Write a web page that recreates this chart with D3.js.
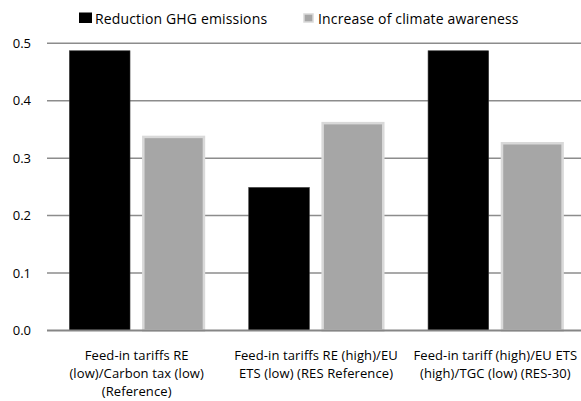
<!DOCTYPE html>
<html>
<head>
<meta charset="utf-8">
<script src="https://cdn.jsdelivr.net/npm/d3@7"></script>
<style>
  html, body { margin: 0; padding: 0; background: #fff; }
  svg { display: block; font-family: "Open Sans", "Liberation Sans", sans-serif; }
</style>
</head>
<body>
<svg id="chart" width="581" height="401"></svg>
<script>
// Scenario categories (each label split into its display lines)
const categories = [
  ["Feed-in tariffs RE", "(low)/Carbon tax (low)", "(Reference)"],
  ["Feed-in tariffs RE (high)/EU", "ETS (low) (RES Reference)"],
  ["Feed-in tariff (high)/EU ETS", "(high)/TGC (low) (RES-30)"]
];
const seriesNames = ["Reduction GHG emissions", "Increase of climate awareness"];
const reductionGHG = [0.487, 0.249, 0.487];
const climateAwareness = [0.337, 0.361, 0.326];
const yTicks = [0, 0.1, 0.2, 0.3, 0.4, 0.5];

const seriesValues = [reductionGHG, climateAwareness];
const seriesFill = ["#000000", "#a6a6a6"];
const seriesStroke = ["#3a3a3a", "#d9d9d9"];

const svg = d3.select("#chart");
const plot = { left: 47, right: 585, top: 43.3, bottom: 330.5 };

const x0 = d3.scaleBand()
  .domain(d3.range(categories.length))
  .range([plot.left, plot.right])
  .padding(0);

const x1 = d3.scaleBand()
  .domain(d3.range(seriesNames.length))
  .range([0, x0.bandwidth()])
  .paddingInner(0.18)
  .paddingOuter(0.303);

const y = d3.scaleLinear()
  .domain([0, 0.5])
  .range([plot.bottom, plot.top]);

// Horizontal gridlines
svg.append("g")
  .selectAll("line")
  .data(yTicks.filter(d => d > 0))
  .join("line")
  .attr("x1", plot.left)
  .attr("x2", plot.right)
  .attr("y1", d => y(d))
  .attr("y2", d => y(d))
  .attr("stroke", "#8c8c8c")
  .attr("stroke-width", 1.5);

// Y axis labels
const yAxis = d3.axisLeft(y)
  .tickValues(yTicks)
  .tickFormat(d3.format(".1f"))
  .tickSize(0)
  .tickPadding(0);

svg.append("g")
  .attr("transform", `translate(${plot.left - 16},0)`)
  .call(yAxis)
  .call(g => g.select(".domain").remove())
  .call(g => g.selectAll("text")
    .attr("font-size", 13)
    .attr("fill", "#000")
    .attr("font-family", "'Open Sans', sans-serif"));

// Bars
const groups = svg.append("g")
  .selectAll("g")
  .data(categories.map((c, i) => i))
  .join("g")
  .attr("transform", i => `translate(${x0(i)},0)`);

groups.selectAll("rect")
  .data(i => seriesValues.map((vals, s) => ({ s, v: vals[i] })))
  .join("rect")
  .attr("x", d => x1(d.s))
  .attr("width", x1.bandwidth())
  .attr("y", d => y(d.v))
  .attr("height", d => y(0) - y(d.v))
  .attr("fill", d => seriesFill[d.s])
  .attr("stroke", d => seriesStroke[d.s])
  .attr("stroke-width", d => d.s === 0 ? 0.6 : 2.5);

// Baseline
svg.append("line")
  .attr("x1", plot.left)
  .attr("x2", plot.right)
  .attr("y1", y(0))
  .attr("y2", y(0))
  .attr("stroke", "#868686")
  .attr("stroke-width", 2);

// Category labels
const catLabels = svg.append("g")
  .selectAll("text")
  .data(categories)
  .join("text")
  .attr("text-anchor", "middle")
  .attr("font-size", 13)
  .attr("letter-spacing", 0.1)
  .attr("fill", "#000")
  .attr("transform", (d, i) => `translate(${x0(i) + x0.bandwidth() / 2},0)`);

catLabels.selectAll("tspan")
  .data(d => d)
  .join("tspan")
  .attr("x", 0)
  .attr("y", (d, k) => 359.5 + k * 18.3)
  .text(d => d);

// Legend
const legendX = [79, 303];
const legend = svg.append("g")
  .selectAll("g")
  .data(seriesNames)
  .join("g")
  .attr("transform", (d, i) => `translate(${legendX[i]},0)`);

legend.append("rect")
  .attr("x", (d, i) => i === 0 ? 0 : 1)
  .attr("y", (d, i) => i === 0 ? 12.5 : 14)
  .attr("width", (d, i) => i === 0 ? 13 : 9)
  .attr("height", (d, i) => i === 0 ? 10.5 : 8)
  .attr("fill", (d, i) => seriesFill[i])
  .attr("stroke", (d, i) => i === 0 ? "none" : seriesStroke[i])
  .attr("stroke-width", 1.5);

legend.append("text")
  .attr("x", (d, i) => i === 0 ? 16 : 15)
  .attr("y", 23.5)
  .attr("font-size", 14)
  .attr("letter-spacing", 0.15)
  .attr("fill", "#000")
  .text(d => d);
</script>
</body>
</html>
